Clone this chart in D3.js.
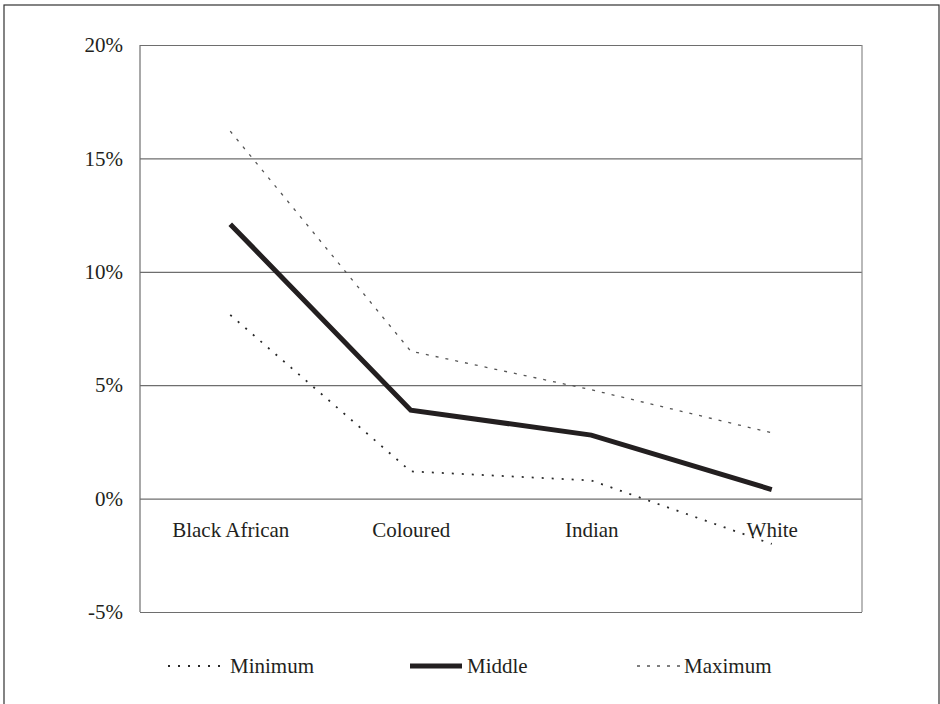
<!DOCTYPE html>
<html><head><meta charset="utf-8">
<script src="https://cdn.jsdelivr.net/npm/d3@7"></script>
<style>
html,body{margin:0;padding:0;background:#fff;}
svg{display:block;}
text{font-family:"Liberation Serif","Times New Roman",serif;fill:#231f20;}
</style></head>
<body>
<svg id="chart" width="940" height="704"></svg>
<script>
const categories = ["Black African", "Coloured", "Indian", "White"];
const minimum = [8.1, 1.2, 0.8, -2.0];
const middle = [12.1, 3.9, 2.8, 0.4];
const maximum = [16.2, 6.5, 4.8, 2.9];
const yTicks = [-5, 0, 5, 10, 15, 20];
const seriesNames = ["Minimum", "Middle", "Maximum"];

const svg = d3.select("#chart");
const M = {left:140, right:862, top:45, bottom:612};

// outer frame
svg.append("rect").attr("x",4).attr("y",5).attr("width",935).attr("height",710)
  .attr("fill","none").attr("stroke","#333").attr("stroke-width",1.2);

const x = d3.scalePoint().domain(categories).range([M.left, M.right]).padding(0.5);
const y = d3.scaleLinear().domain([-5, 20]).range([M.bottom, M.top]);

// gridlines
const grid = svg.append("g").attr("transform",`translate(${M.left},0)`)
  .call(d3.axisLeft(y).tickValues(yTicks).tickSize(-(M.right-M.left)).tickFormat(""));
grid.select(".domain").remove();
grid.selectAll("line").attr("stroke","#6e6e6e").attr("stroke-width",1.2);

// left/right borders
svg.append("line").attr("x1",M.left).attr("x2",M.left).attr("y1",y(20)).attr("y2",y(-5))
  .attr("stroke","#6e6e6e").attr("stroke-width",1.2);
svg.append("line").attr("x1",M.right).attr("x2",M.right).attr("y1",y(20)).attr("y2",y(-5))
  .attr("stroke","#8a8a8a").attr("stroke-width",1.2);

// y tick labels
const yAx = svg.append("g").attr("transform",`translate(${M.left},0)`)
  .call(d3.axisLeft(y).tickValues(yTicks).tickSize(0).tickPadding(17).tickFormat(d => d + "%"));
yAx.select(".domain").remove();
yAx.selectAll("text").attr("font-size",21).attr("font-family","Liberation Serif").attr("fill","#231f20");

// category labels
const xAx = svg.append("g").attr("transform",`translate(0,${y(0)})`)
  .call(d3.axisBottom(x).tickSize(0).tickPadding(23));
xAx.select(".domain").remove();
xAx.selectAll("text").attr("font-size",21).attr("font-family","Liberation Serif").attr("fill","#231f20");

const styles = {
  Minimum: {stroke:"#2a2a2a", width:1.8, dash:"2,8"},
  Middle:  {stroke:"#231f20", width:5, dash:null},
  Maximum: {stroke:"#555", width:1.3, dash:"3,7"}
};
const seriesData = {Minimum: minimum, Middle: middle, Maximum: maximum};

const line = d3.line().x((d,i) => x(categories[i])).y(d => y(d));
seriesNames.forEach(name => {
  const s = styles[name];
  svg.append("path").datum(seriesData[name])
    .attr("d", line).attr("fill","none")
    .attr("stroke", s.stroke).attr("stroke-width", s.width)
    .attr("stroke-dasharray", s.dash).attr("stroke-linejoin","miter");
});

// legend
const legendPos = [
  {x1:168, x2:225, tx:230},
  {x1:410, x2:462, tx:467},
  {x1:637, x2:682, tx:684}
];
const legendY = 666;
seriesNames.forEach((name, i) => {
  const s = styles[name], p = legendPos[i];
  svg.append("line").attr("x1",p.x1).attr("x2",p.x2).attr("y1",legendY).attr("y2",legendY)
    .attr("stroke", s.stroke).attr("stroke-width", s.width).attr("stroke-dasharray", s.dash);
  svg.append("text").attr("x",p.tx).attr("y",legendY).attr("dy","0.35em")
    .attr("font-size",21).text(name);
});
</script>
</body></html>
